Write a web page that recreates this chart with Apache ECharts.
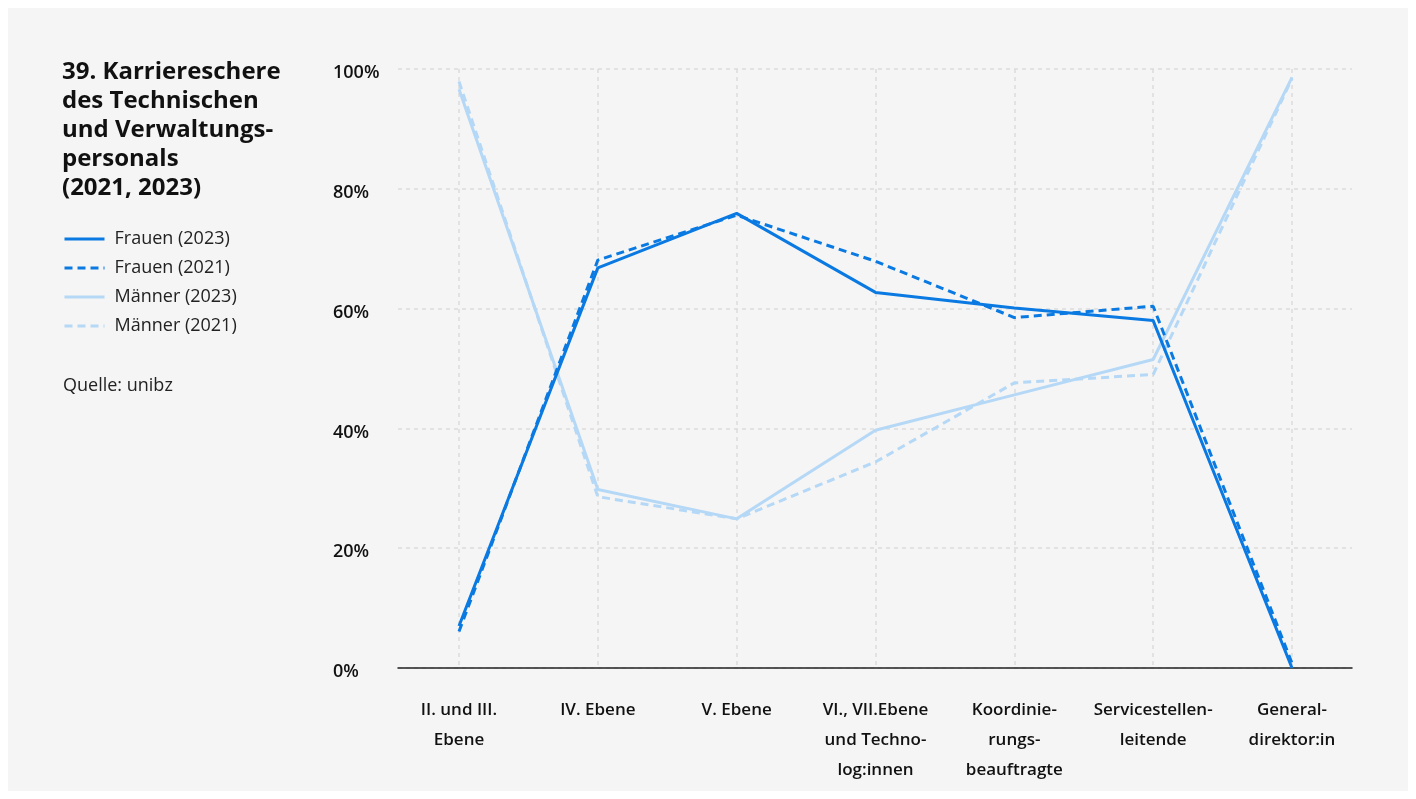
<!DOCTYPE html>
<html lang="de" style="height: 100%">
<head>
  <meta charset="utf-8">
</head>
<body style="height: 100%; margin: 0; background: #ffffff">
  <div id="container" style="position: absolute; left: 8px; top: 8px; width: 1400px; height: 783px"></div>

  <script type="text/javascript" src="https://fastly.jsdelivr.net/npm/echarts@6/dist/echarts.min.js"></script>
  <script type="text/javascript">
    var dom = document.getElementById('container');
    var myChart = echarts.init(dom, null, { renderer: 'canvas' });

    // Kategorien (x-Achse)
    var categories = [
      'II. und III.\nEbene',
      'IV. Ebene',
      'V. Ebene',
      'VI., VII.Ebene\nund Techno-\nlog:innen',
      'Koordinie-\nrungs-\nbeauftragte',
      'Servicestellen-\nleitende',
      'General-\ndirektor:in'
    ];
    // Anteile in %
    var frauen2023 = [7.0, 66.8, 75.9, 62.7, 60.1, 58.0, 0];
    var frauen2021 = [6.1, 68.1, 75.6, 67.9, 58.5, 60.4, 0.8];
    var maenner2023 = [96.6, 29.8, 24.9, 39.7, 45.6, 51.5, 98.6];
    var maenner2021 = [97.9, 28.6, 24.9, 34.4, 47.6, 49.0, 98.4];
    var yTicks = [0, 20, 40, 60, 80, 100];

    var dark = '#0a7ae2';
    var light = '#b5d8f6';
    var font = '"Open Sans", Roboto, sans-serif';
    // container is offset by 8px
    var ox = 8, oy = 8;

    var option = {
      backgroundColor: '#f5f5f5',
      textStyle: { fontFamily: font },
      title: {
        text: '39. Karriereschere\ndes Technischen\nund Verwaltungs-\npersonals\n(2021, 2023)',
        left: 62 - ox,
        top: 58 - oy,
        padding: 0,
        textStyle: { fontSize: 24, fontWeight: 'bold', color: '#111', lineHeight: 29, fontFamily: font }
      },
      legend: {
        orient: 'vertical',
        left: 63 - ox,
        top: 230 - oy,
        padding: 0,
        itemWidth: 40,
        itemHeight: 14,
        itemGap: 11,
        itemStyle: { opacity: 0 },
        lineStyle: { width: 3 },
        textStyle: { fontSize: 18, lineHeight: 18, color: '#222', padding: [0, 0, 0, 5], fontFamily: font },
        data: ['Frauen (2023)', 'Frauen (2021)', 'Männer (2023)', 'Männer (2021)']
      },
      graphic: [{
        type: 'text',
        left: 63 - ox,
        top: 377 - oy,
        style: { text: 'Quelle: unibz', fontSize: 18, fill: '#222', fontFamily: font }
      }],
      grid: [
        { left: 398 - ox, right: 1416 - 1352 - ox, top: 69 - oy, bottom: 799 - 668 - oy, containLabel: false },
        { left: 459 - ox, right: 1416 - 1292 - ox, top: 69 - oy, bottom: 799 - 668 - oy, containLabel: false }
      ],
      xAxis: [
        {
          gridIndex: 0,
          type: 'value',
          min: 0,
          max: 1,
          axisLine: { show: true, lineStyle: { color: '#222', width: 1.5 } },
          axisTick: { show: false },
          axisLabel: { show: false },
          splitLine: { show: false }
        },
        {
          gridIndex: 1,
          type: 'category',
          boundaryGap: false,
          data: categories,
          axisLine: { show: false },
          axisTick: { show: false },
          axisLabel: {
            interval: 0,
            margin: 27,
            fontSize: 17,
            fontWeight: 600,
            lineHeight: 30,
            color: '#111',
            verticalAlign: 'top'
          },
          splitLine: { show: true, lineStyle: { color: '#dcdcdc', type: [4, 4], width: 1.5 } }
        }
      ],
      yAxis: [
        {
          gridIndex: 0,
          type: 'value',
          min: 0,
          max: 100,
          interval: 20,
          axisLine: { show: false },
          axisTick: { show: false },
          axisLabel: {
            margin: 65,
            align: 'left',
            formatter: function (v) { return yTicks.indexOf(v) >= 0 ? '{t|' + v + '%}' : ''; },
            rich: {
              t: { fontSize: 18, fontWeight: 600, color: '#111', fontFamily: font, padding: [8, 0, 0, 0] }
            }
          },
          splitLine: { show: true, lineStyle: { color: '#dcdcdc', type: [4, 4], width: 1.5 } }
        },
        {
          gridIndex: 1,
          type: 'value',
          min: 0,
          max: 100,
          show: false
        }
      ],
      series: [
        {
          name: 'Männer (2021)', type: 'line', xAxisIndex: 1, yAxisIndex: 1,
          symbol: 'none', data: maenner2021,
          lineStyle: { color: light, width: 3, type: [8, 5] }, itemStyle: { color: light }
        },
        {
          name: 'Männer (2023)', type: 'line', xAxisIndex: 1, yAxisIndex: 1,
          symbol: 'none', data: maenner2023,
          lineStyle: { color: light, width: 3 }, itemStyle: { color: light }
        },
        {
          name: 'Frauen (2021)', type: 'line', xAxisIndex: 1, yAxisIndex: 1,
          symbol: 'none', data: frauen2021,
          lineStyle: { color: dark, width: 3, type: [8, 5] }, itemStyle: { color: dark }
        },
        {
          name: 'Frauen (2023)', type: 'line', xAxisIndex: 1, yAxisIndex: 1,
          symbol: 'none', data: frauen2023,
          lineStyle: { color: dark, width: 3 }, itemStyle: { color: dark }
        }
      ]
    };

    myChart.setOption(option);
    window.addEventListener('resize', myChart.resize);
  </script>
</body>
</html>
